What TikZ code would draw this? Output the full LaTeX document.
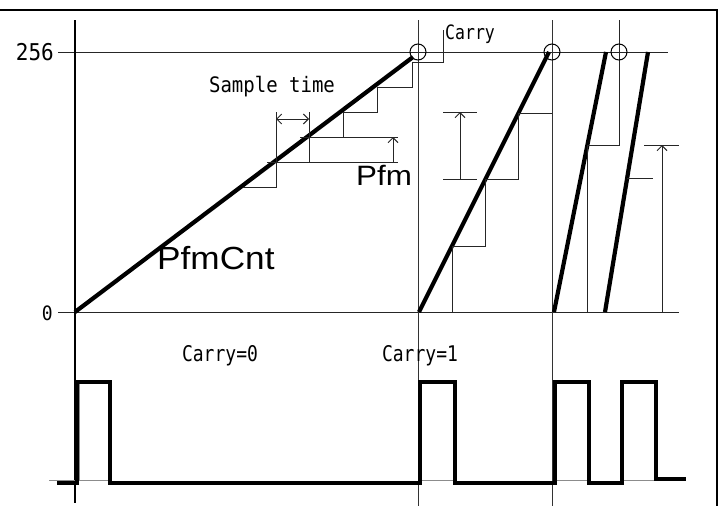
\documentclass[tikz,border=0pt]{standalone}
\usepackage{fontspec}
\usepackage{graphicx}
\usetikzlibrary{arrows.meta}
\newfontfamily\labelmono{DejaVu Sans Mono}
\newfontfamily\labelsans{Liberation Sans}
% taller, condensed-looking terminal lettering
\newcommand{\talltext}[2][1.2]{\scalebox{1}[#1]{#2}}

\begin{document}
\begin{tikzpicture}[x=1pt,y=-1pt,
  thinline/.style={line width=1pt, black!85},
  guide/.style={line width=1pt, black!80},
  ramp/.style={line width=4.2pt, line cap=butt, black},
  pulse/.style={line width=4pt, line join=miter, black},
  ghost/.style={line width=0.8pt, black!45},
  measure/.style={line width=1pt, black!85, -{Straight Barb[length=5pt,width=10pt]}},
  span/.style={line width=1pt, black!85, {Straight Barb[length=5pt,width=10pt]}-{Straight Barb[length=5pt,width=10pt]}},
  monolabel/.style={inner sep=0pt, font=\labelmono\fontsize{#1}{#1}\selectfont},
  biglabel/.style={inner sep=0pt, font=\labelsans\fontsize{#1}{#1}\selectfont},
  carrymark/.style={line width=1pt, black, circle, draw, minimum size=16pt, inner sep=0pt}
]
\useasboundingbox (0,0) rectangle (720,506);

% frame
\draw[line width=2.5pt] (0,10) -- (717,10) -- (717,506);

% value levels
\coordinate (top256W) at (58,52);  \coordinate (top256E) at (668,52);
\coordinate (zeroW) at (58,312);   \coordinate (zeroE) at (679,312);
\draw[thinline] (top256W) -- (top256E);
\draw[thinline] (zeroW) -- (zeroE);
\node[monolabel=21, anchor=east] (l256) at (54,52) {\talltext[1.1]{256}};
\node[monolabel=18, anchor=east] (l0) at (53,313) {\talltext[1.1]{0}};

% time markers
\draw[line width=2pt] (75,20) -- (75,503);
\draw[guide] (418,20) -- (418,506);
\draw[guide] (552,20) -- (552,506);

% ramp 1 (slow counter)
\coordinate (r1a) at (75,312); \coordinate (r1b) at (413,57);
\draw[ramp] (r1a) -- (r1b);
\draw[thinline] (243,187) -- (276,187) -- (276,162) -- (309,162) -- (309,137)
  -- (343,137) -- (343,112) -- (377,112) -- (377,87) -- (412,87) -- (412,62)
  -- (443,62) -- (443,30);
\node[monolabel=16.5, anchor=west] (carry) at (445,34) {\talltext{Carry}};

% sample time
\draw[thinline] (276,112) -- (276,162);
\draw[thinline] (309,112) -- (309,137);
\coordinate (stA) at (276,119); \coordinate (stB) at (309,119);
\draw[span] (stA) -- (stB);
\node[monolabel=19] (stlabel) at (272,87) {\talltext[1.12]{Sample time}};

% Pfm step
\draw[thinline] (300,137) -- (398,137);
\draw[thinline] (267,162) -- (398,162);
\coordinate (pfmLo) at (393,162); \coordinate (pfmHi) at (393,137);
\draw[measure] (pfmLo) -- (pfmHi);
\node[biglabel=28, anchor=base west] (pfm) at (356,185) {\scalebox{1.12}[1]{Pfm}};
\node[biglabel=32, anchor=base west] (pfmcnt) at (157,269) {\scalebox{1.1}[1]{PfmCnt}};

% ramp 2
\coordinate (r2a) at (419,312); \coordinate (r2b) at (549,52);
\draw[ramp] (r2a) -- (r2b);
\draw[thinline] (452,312) -- (452,246) -- (485,246) -- (485,179) -- (518,179)
  -- (518,113) -- (552,113);
\draw[thinline] (443,112) -- (477,112);
\draw[thinline] (443,179) -- (477,179);
\coordinate (m2Lo) at (460,179); \coordinate (m2Hi) at (460,112);
\draw[measure] (m2Lo) -- (m2Hi);

% ramps 3 and 4
\coordinate (r3a) at (554,312); \coordinate (r3b) at (606,52);
\coordinate (r4a) at (605,312); \coordinate (r4b) at (648,52);
\draw[ramp] (r3a) -- (r3b);
\draw[ramp] (r4a) -- (r4b);
\draw[thinline] (587,312) -- (587,145) -- (619,145) -- (619,20);
\draw[thinline] (627,178) -- (653,178);
\draw[thinline] (644,145) -- (679,145);
\coordinate (m4Lo) at (662,312); \coordinate (m4Hi) at (662,145);
\draw[measure] (m4Lo) -- (m4Hi);

% carry points
\node[carrymark] (c1) at (418,52) {};
\node[carrymark] (c2) at (552,52) {};
\node[carrymark] (c3) at (619,52) {};

% carry output
\node[monolabel=18] (carry0) at (220,356) {\talltext{Carry=0}};
\node[monolabel=18] (carry1) at (420,356) {\talltext{Carry=1}};
\draw[ghost] (49,480) -- (110,480);
\draw[ghost] (79,384) -- (79,480);
\draw[ghost] (418,480) -- (455,480);
\draw[ghost] (555,480) -- (589,480);
\draw[ghost] (622,480) -- (656,480);
\draw[pulse] (57,483) -- (77,483) -- (77,382) -- (110,382) -- (110,483)
  -- (420,483) -- (420,382) -- (455,382) -- (455,483) -- (555,483)
  -- (555,382) -- (589,382) -- (589,483) -- (622,483) -- (622,382)
  -- (656,382) -- (656,479) -- (686,479);
\end{tikzpicture}
\end{document}
